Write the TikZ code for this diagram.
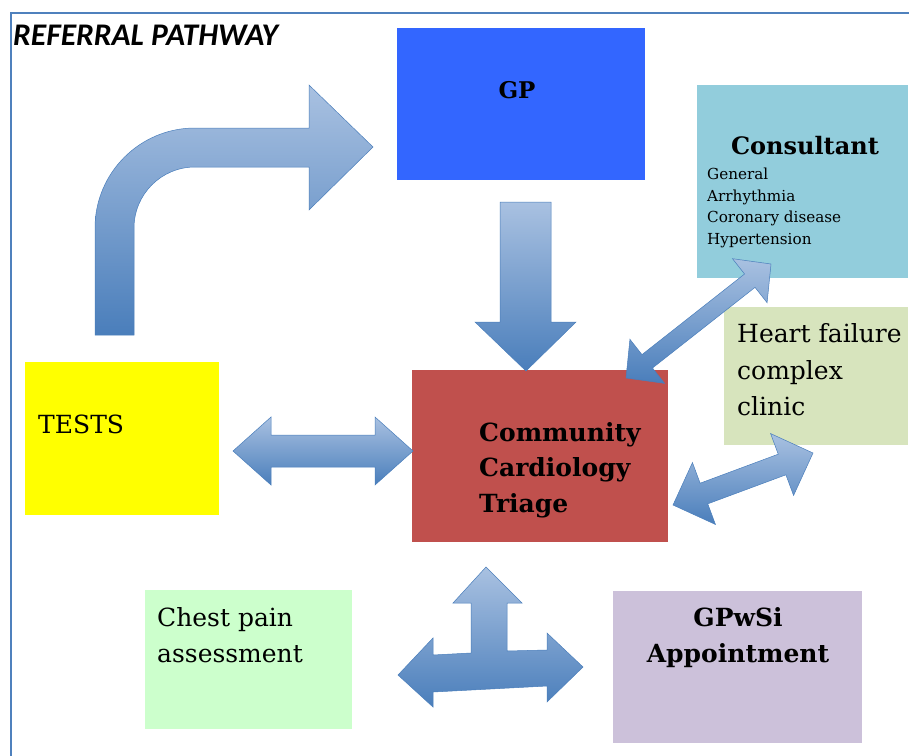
\documentclass[tikz,border=0pt]{standalone}
\usepackage{fontspec}
\setmainfont{DejaVu Serif}
\newfontfamily\titlefont{Carlito}
\usetikzlibrary{calc}
\definecolor{gpblue}{HTML}{3366FF}
\definecolor{consult}{HTML}{92CDDC}
\definecolor{hfgreen}{HTML}{D7E4BD}
\definecolor{testyellow}{HTML}{FFFF00}
\definecolor{triagered}{HTML}{C0504D}
\definecolor{chestgreen}{HTML}{CCFFCC}
\definecolor{gpwsi}{HTML}{CCC1DA}
\definecolor{framecol}{HTML}{4F81BD}
\definecolor{arrlight}{HTML}{A9C1E1}
\definecolor{arrdark}{HTML}{4A7EBB}
\definecolor{arredge}{HTML}{4A7EBB}
\tikzset{
  box/.style={anchor=north west, inner sep=0pt, outer sep=0pt, draw=none},
  blockarrow/.style={top color=arrlight, bottom color=arrdark, draw=arredge, line width=0.5pt, line join=miter},
  txt/.style={inner sep=0pt, align=left, font=\fontsize{25}{36}\selectfont},
  btxt/.style={inner sep=0pt, align=center, font=\fontsize{25}{36}\selectfont\bfseries},
}
% double block arrow between two named coordinates: #1 tip A, #2 tip B, #3 shaft half width, #4 head half width, #5 head length
\newcommand\dblblock[5]{%
  \draw[blockarrow] (#1)
    -- ($(#1)!#5!(#2)!#4!90:(#2)$)
    -- ($(#1)!#5!(#2)!#3!90:(#2)$)
    -- ($(#2)!#5!(#1)!#3!-90:(#1)$)
    -- ($(#2)!#5!(#1)!#4!-90:(#1)$)
    -- (#2)
    -- ($(#2)!#5!(#1)!#4!90:(#1)$)
    -- ($(#2)!#5!(#1)!#3!90:(#1)$)
    -- ($(#1)!#5!(#2)!#3!-90:(#2)$)
    -- ($(#1)!#5!(#2)!#4!-90:(#2)$)
    -- cycle;}
\begin{document}
\begin{tikzpicture}[x=1pt,y=-1pt]
\useasboundingbox (0,0) rectangle (909,755);
% frame
\draw[framecol, line width=2.2pt] (11,756) -- (11,13) -- (910,13);
\node[inner sep=0pt, anchor=west, font=\titlefont\fontsize{31.5}{34}\selectfont\bfseries\itshape] (title) at (13,35) {REFERRAL PATHWAY};

% boxes
\node[box, fill=gpblue, minimum width=248pt, minimum height=152pt] (gp) at (397,28) {};
\node[box, fill=consult, minimum width=211pt, minimum height=193pt] (cons) at (697,85) {};
\node[box, fill=hfgreen, minimum width=184pt, minimum height=138pt] (hf) at (724,307) {};
\node[box, fill=testyellow, minimum width=194pt, minimum height=153pt] (tests) at (25,362) {};
\node[box, fill=triagered, minimum width=256pt, minimum height=172pt] (triage) at (412,370) {};
\node[box, fill=chestgreen, minimum width=207pt, minimum height=139pt] (chest) at (145,590) {};
\node[box, fill=gpwsi, minimum width=249pt, minimum height=152pt] (gpw) at (613,591) {};

% texts
\node[inner sep=0pt, font=\fontsize{23}{26}\selectfont\bfseries] (gpt) at (517,90) {GP};
\node[inner sep=0pt, font=\fontsize{24}{28}\selectfont\bfseries] (const) at (805,146) {Consultant};
\node[inner sep=0pt, anchor=west, align=left, font=\fontsize{15.2}{21.7}\selectfont] (consl) at (707,208) {General\\Arrhythmia\\Coronary disease\\Hypertension};
\node[txt, anchor=west, font=\fontsize{25}{36.5}\selectfont] (hft) at (737,370) {Heart failure\\complex\\clinic};
\node[txt, anchor=west] (testst) at (38,424) {TESTS};
\node[btxt, anchor=west, align=left, font=\fontsize{25}{35.5}\selectfont\bfseries] (triaget) at (479,470) {Community\\Cardiology\\Triage};
\node[txt, anchor=west] (chestt) at (157,635) {Chest pain\\assessment};
\node[btxt] (gpwt) at (738,638) {GPwSi\\Appointment};

% bent arrow from tests up to GP
\draw[blockarrow] (95,335) -- (95,228) arc[start angle=180, end angle=90, radius=100pt]
  -- (309,128) -- (309,85) -- (373,147) -- (309,210) -- (309,167) -- (195,167)
  arc[start angle=90, end angle=180, radius=61pt] -- (134,335) -- cycle;

% GP down to triage
\draw[blockarrow] (500,202) -- (551,202) -- (551,322) -- (576,322) -- (526,371) -- (475,322) -- (500,322) -- cycle;

% double arrows
\coordinate (ta) at (233,451);
\coordinate (tb) at (413,451);
\dblblock{ta}{tb}{16pt}{34pt}{38pt}

\coordinate (ca) at (626,378);
\coordinate (cb) at (771,264);
\dblblock{ca}{cb}{8.5pt}{28pt}{27pt}

\coordinate (ha) at (673,505);
\coordinate (hb) at (813,453);
\dblblock{ha}{hb}{11pt}{33pt}{33pt}

% three-way arrow
\draw[blockarrow] (398,675) -- (433,638) -- (433,655) -- (471,653) -- (471,603) -- (453,603)
  -- (486,567) -- (522,603) -- (507,603) -- (507,651) -- (547,650) -- (547,633)
  -- (583,667) -- (547,702) -- (547,686) -- (433,692) -- (433,707) -- cycle;
\end{tikzpicture}
\end{document}
